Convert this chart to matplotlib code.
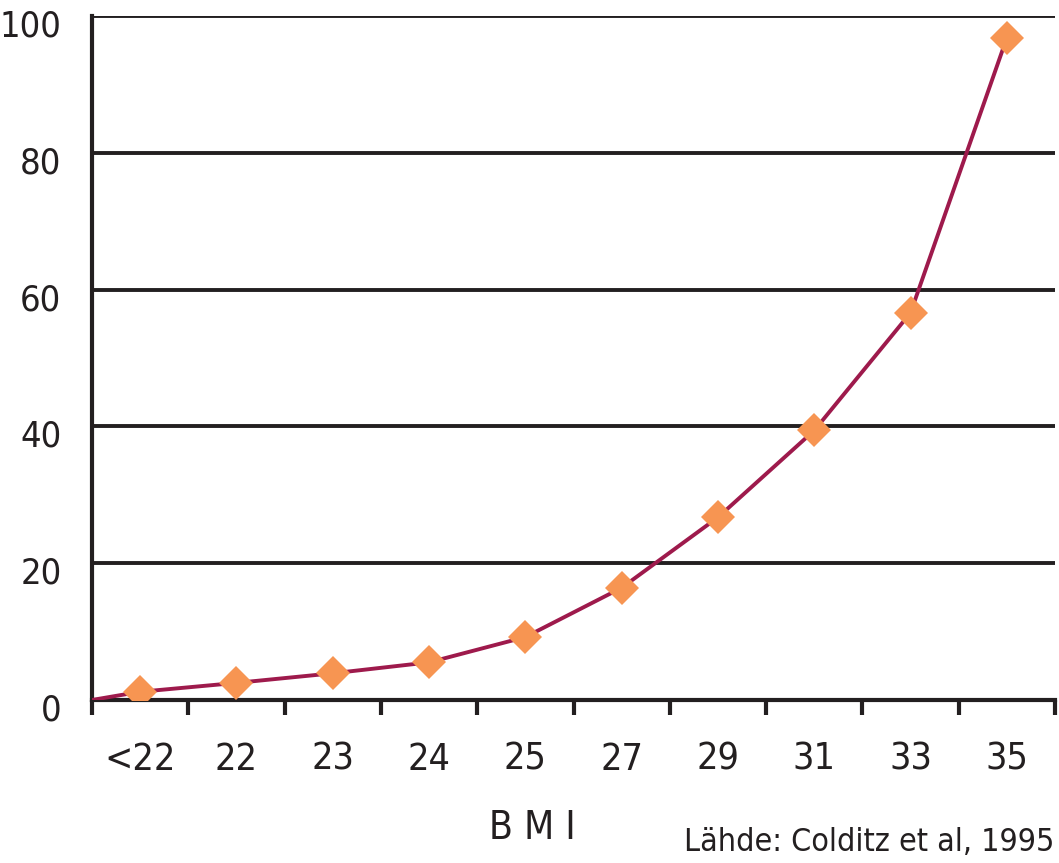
import matplotlib
matplotlib.use("Agg")
import matplotlib.pyplot as plt
import matplotlib.transforms as mtransforms
import numpy as np

# BMI class vs relative risk
categories = ["<22", "22", "23", "24", "25", "27", "29", "31", "33", "35"]
risk = [1.2, 2.5, 3.9, 5.5, 9.2, 16.4, 26.7, 39.4, 56.6, 96.8]
start_value = 0  # line begins at the origin on the left axis
yticks = [0, 20, 40, 60, 80, 100]

INK = "#231f20"
LINE = "#9e1a4c"
MARK = "#f79552"

plt.rcParams["font.family"] = ["DejaVu Sans"]
plt.rcParams["font.stretch"] = "condensed"

fig = plt.figure(figsize=(10.59, 8.63), dpi=100)
ax = fig.add_axes([0.0869, 0.1889, 0.9093, 0.7926])

x = np.arange(len(categories))
ax.plot(np.r_[-0.5, x], np.r_[start_value, risk], color=LINE, lw=2.8,
        zorder=3, solid_capstyle="round")
ax.plot(x, risk, ls="none", marker="D", ms=17, color=MARK,
        markeredgewidth=0, zorder=4)

ax.set_xlim(-0.5, len(categories) - 0.5)
ax.set_ylim(0, 100)

# horizontal rules at each y tick
for v in yticks[1:]:
    ax.axhline(v, color=INK, lw=2.8, zorder=1)

ax.set_yticks(yticks)
ax.set_yticklabels([str(v) for v in yticks], fontsize=26, color=INK,
                   stretch="condensed")
ax.tick_params(axis="y", length=0, pad=22)
# nudge the value labels slightly below their rules
shift = mtransforms.ScaledTranslation(0, -5 / 72, fig.dpi_scale_trans)
for lab in ax.get_yticklabels():
    lab.set_transform(lab.get_transform() + shift)

# category ticks sit between the labels
ax.set_xticks(np.arange(len(categories) + 1) - 0.5)
ax.set_xticklabels([])
ax.set_xticks(x, minor=True)
ax.set_xticklabels(categories, minor=True, fontsize=27, color=INK,
                   stretch="condensed")
ax.tick_params(axis="x", which="major", length=11, width=3, color=INK,
               direction="out")
ax.tick_params(axis="x", which="minor", length=0, pad=30)

for s in ["top", "right"]:
    ax.spines[s].set_visible(False)
for s in ["left", "bottom"]:
    ax.spines[s].set_color(INK)
    ax.spines[s].set_linewidth(3)

fig.text(0.503, 0.028, "B M I", ha="center", va="baseline", fontsize=28,
         color=INK, stretch="condensed")
fig.text(0.996, 0.014, "Lähde: Colditz et al, 1995", ha="right",
         va="baseline", fontsize=23, color=INK, stretch="condensed")

fig.savefig("out.png", dpi=100)
